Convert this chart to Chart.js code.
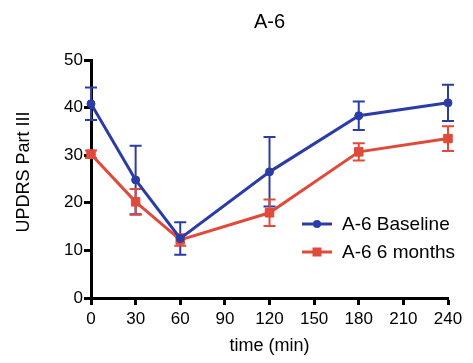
<!DOCTYPE html>
<html>
<head>
<meta charset="utf-8">
<script src="https://cdn.jsdelivr.net/npm/chart.js@4/dist/chart.umd.min.js"></script>
<style>
html,body{margin:0;padding:0;background:#fff;}
#wrap{width:473px;height:363px;position:relative;}
</style>
</head>
<body>
<div id="wrap"><canvas id="c"></canvas></div>
<script>
const timePoints = [0, 30, 60, 120, 180, 240];
const xTicks = [0, 30, 60, 90, 120, 150, 180, 210, 240];
const yTicks = [0, 10, 20, 30, 40, 50];
const baselineMean = [40.8, 24.8, 12.5, 26.5, 38.3, 41.0];
const baselineErr  = [3.4, 7.2, 3.4, 7.3, 3.0, 3.8];
const sixMonthMean = [30.2, 20.2, 12.2, 17.9, 30.7, 33.5];
const sixMonthErr  = [0.8, 2.7, 1.2, 2.8, 1.8, 2.6];
const seriesNames = ['A-6 Baseline', 'A-6 6 months'];
const chartTitle = 'A-6';
const xTitle = 'time (min)';
const yTitle = 'UPDRS Part III';

const BLUE = '#2b3ca6';
const RED = '#e04a3a';
const FONT = "'Liberation Sans', Arial, sans-serif";

const errors = [baselineErr, sixMonthErr];

const errorBarPlugin = {
  id: 'errorBars',
  beforeDatasetsDraw(chart) {
    const ctx = chart.ctx;
    const ys = chart.scales.y;
    chart.data.datasets.forEach((ds, i) => {
      const meta = chart.getDatasetMeta(i);
      ctx.save();
      ctx.strokeStyle = ds.borderColor;
      ctx.lineWidth = 2;
      meta.data.forEach((pt, j) => {
        const v = ds.data[j].y;
        const e = errors[i][j];
        const yt = ys.getPixelForValue(v + e);
        const yb = ys.getPixelForValue(v - e);
        const x = pt.x;
        ctx.beginPath();
        ctx.moveTo(x, yt); ctx.lineTo(x, yb);
        ctx.moveTo(x - 6, yt); ctx.lineTo(x + 6, yt);
        ctx.moveTo(x - 6, yb); ctx.lineTo(x + 6, yb);
        ctx.stroke();
      });
      ctx.restore();
    });
  }
};

const textPlugin = {
  id: 'extraText',
  afterDraw(chart) {
    const ctx = chart.ctx;
    const area = chart.chartArea;
    // chart title
    ctx.save();
    ctx.fillStyle = '#000';
    ctx.font = '20px ' + FONT;
    ctx.textAlign = 'center';
    ctx.textBaseline = 'middle';
    ctx.fillText(chartTitle, (area.left + area.right) / 2, 22);
    ctx.restore();
    // y axis title
    ctx.save();
    ctx.fillStyle = '#000';
    ctx.font = '18px ' + FONT;
    ctx.textAlign = 'center';
    ctx.textBaseline = 'middle';
    ctx.translate(24, 172);
    ctx.rotate(-Math.PI / 2);
    ctx.fillText(yTitle, 0, 0);
    ctx.restore();
    // legend
    const rows = [224, 252];
    chart.data.datasets.forEach((ds, i) => {
      const y = rows[i];
      ctx.save();
      ctx.strokeStyle = ds.borderColor;
      ctx.lineWidth = 3;
      ctx.beginPath();
      ctx.moveTo(302, y); ctx.lineTo(332, y);
      ctx.stroke();
      ctx.fillStyle = ds.pointBackgroundColor;
      if (ds.pointStyle === 'rect') {
        ctx.fillRect(317 - 4.5, y - 4.5, 9, 9);
      } else {
        ctx.beginPath();
        ctx.arc(317, y, 4, 0, Math.PI * 2);
        ctx.fill();
      }
      ctx.fillStyle = '#000';
      ctx.font = '19px ' + FONT;
      ctx.textAlign = 'left';
      ctx.textBaseline = 'middle';
      ctx.fillText(ds.label, 342, y + 1);
      ctx.restore();
    });
  }
};

new Chart(document.getElementById('c'), {
  type: 'line',
  data: {
    datasets: [
      {
        label: seriesNames[0],
        data: timePoints.map((t, i) => ({x: t, y: baselineMean[i]})),
        borderColor: BLUE,
        backgroundColor: BLUE,
        pointBackgroundColor: BLUE,
        pointBorderColor: BLUE,
        pointStyle: 'circle',
        pointRadius: 4,
        pointBorderWidth: 1,
        borderWidth: 3,
        tension: 0,
        clip: false
      },
      {
        label: seriesNames[1],
        data: timePoints.map((t, i) => ({x: t, y: sixMonthMean[i]})),
        borderColor: RED,
        backgroundColor: RED,
        pointBackgroundColor: RED,
        pointBorderColor: RED,
        pointStyle: 'rect',
        pointRadius: 6,
        pointBorderWidth: 1,
        borderWidth: 3,
        tension: 0,
        clip: false
      }
    ]
  },
  options: {
    responsive: true,
    maintainAspectRatio: false,
    animation: false,
    layout: { padding: { left: 0, right: 25, top: 60, bottom: 0 } },
    plugins: {
      legend: { display: false },
      tooltip: { enabled: false },
      title: { display: false }
    },
    scales: {
      x: {
        type: 'linear',
        min: 0, max: 240,
        afterBuildTicks(s) { s.ticks = xTicks.map(v => ({value: v})); },
        afterFit(s) { s.height = 65; },
        border: { display: true, color: '#000', width: 3 },
        grid: { display: true, drawOnChartArea: false, drawTicks: true, tickLength: 7, tickWidth: 3, tickColor: '#000' },
        ticks: { color: '#000', padding: 4, maxRotation: 0, font: { family: FONT, size: 17 } },
        title: { display: true, text: xTitle, color: '#000', font: { family: FONT, size: 18 }, padding: { top: 0, bottom: 6 } }
      },
      y: {
        type: 'linear',
        min: 0, max: 50,
        afterBuildTicks(s) { s.ticks = yTicks.map(v => ({value: v})); },
        afterFit(s) { s.width = 91; },
        border: { display: true, color: '#000', width: 3 },
        grid: { display: true, drawOnChartArea: false, drawTicks: true, tickLength: 7, tickWidth: 3, tickColor: '#000' },
        ticks: { color: '#000', padding: 1, font: { family: FONT, size: 17 } }
      }
    }
  },
  plugins: [errorBarPlugin, textPlugin]
});
</script>
</body>
</html>
